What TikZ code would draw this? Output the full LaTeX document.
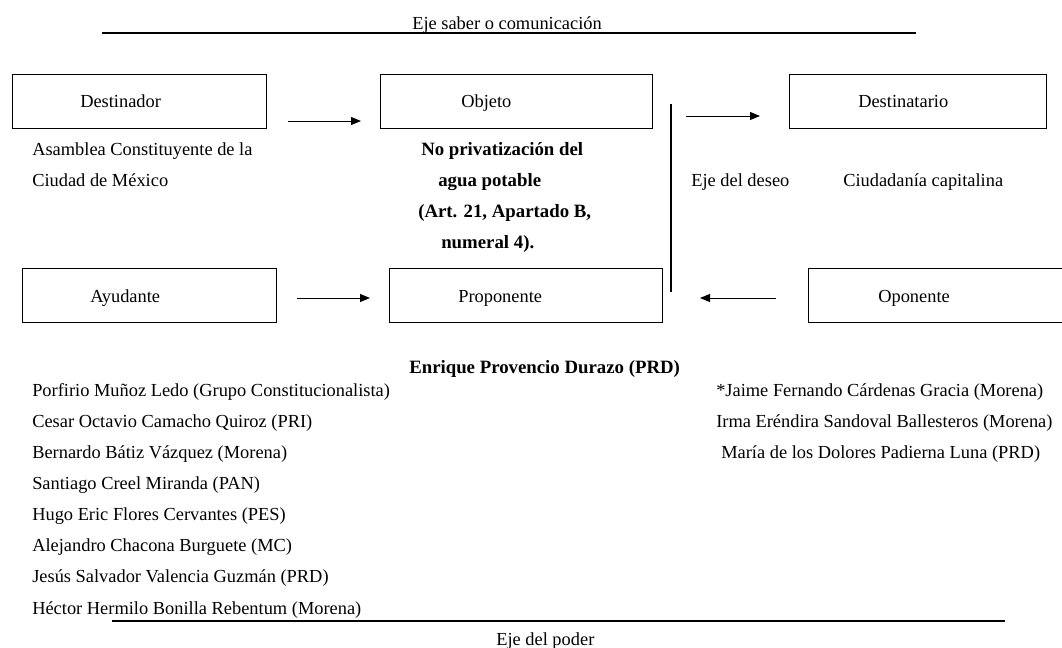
\documentclass[tikz,border=0pt]{standalone}
\usepackage{fontspec}
\setmainfont{Liberation Serif}
\usetikzlibrary{arrows.meta}
\begin{document}
\begin{tikzpicture}[x=0.75pt,y=-0.75pt,
  every node/.style={inner sep=0pt,font=\fontsize{13.8}{16}\selectfont},
  actant/.style={draw,line width=0.9pt,minimum width=#1*0.75pt,minimum height=54*0.75pt,anchor=north west},
  lbl/.style={anchor=base west},
  boldlbl/.style={anchor=base west,font=\fontsize{14.1}{16}\selectfont\bfseries},
  axis/.style={line width=1pt},
  flow/.style={line width=0.75pt,-{Triangle[length=7.5pt,width=6pt]}}]
\useasboundingbox (0,0) rectangle (1062,647);

% axis of knowledge / communication
\coordinate (saberL) at (102,33);
\coordinate (saberR) at (916,33);
\draw[axis] (saberL) -- (saberR);
\node[lbl] (saber) at (412,29) {Eje saber o comunicación};

% actant boxes
\node[actant=254] (destinador) at (12,73.5) {};
\node[actant=272] (objeto) at (380,74) {};
\node[actant=257] (destinatario) at (789,74) {};
\node[actant=254] (ayudante) at (22,268) {};
\node[actant=273] (proponente) at (389,268) {};
\node[actant=270] (oponente) at (808,268) {};

\node[lbl] (tdestinador) at (80,107) {Destinador};
\node[lbl] (tobjeto) at (461,107) {Objeto};
\node[lbl] (tdestinatario) at (858,107) {Destinatario};
\node[lbl] (tayudante) at (90,302) {Ayudante};
\node[lbl] (tproponente) at (458,302) {Proponente};
\node[lbl] (toponente) at (878,302) {Oponente};

% arrows between the actants
\coordinate (a1s) at (288,121);  \coordinate (a1e) at (361,121);
\coordinate (a2s) at (686,116);  \coordinate (a2e) at (760,116);
\coordinate (a3s) at (297,298);  \coordinate (a3e) at (370,298);
\coordinate (a4s) at (776,298);  \coordinate (a4e) at (700,298);
\draw[flow] (a1s) -- (a1e);
\draw[flow] (a2s) -- (a2e);
\draw[flow] (a3s) -- (a3e);
\draw[flow] (a4s) -- (a4e);

% axis of desire
\coordinate (deseoT) at (671,104);
\coordinate (deseoB) at (671,292);
\draw[line width=0.8pt] (deseoT) -- (deseoB);
\node[lbl] (deseo) at (691,186) {Eje del deseo};

% descriptions
\node[lbl] (asamblea1) at (32,155) {Asamblea Constituyente de la};
\node[lbl] (asamblea2) at (32,186) {Ciudad de México};
\node[boldlbl] (obj1) at (421,155) {No privatización del};
\node[boldlbl] (obj2) at (438,186) {agua potable};
\node[boldlbl] (obj3) at (418,217) {(Art. 21, Apartado B,};
\node[boldlbl] (obj4) at (441,248) {numeral 4).};
\node[lbl] (ciudadania) at (843,186) {Ciudadanía capitalina};
\node[boldlbl] (enrique) at (409,373) {Enrique Provencio Durazo (PRD)};

% helpers
\node[lbl] (h1) at (32,396) {Porfirio Muñoz Ledo (Grupo Constitucionalista)};
\node[lbl] (h2) at (32,427) {Cesar Octavio Camacho Quiroz (PRI)};
\node[lbl] (h3) at (32,458) {Bernardo Bátiz Vázquez (Morena)};
\node[lbl] (h4) at (32,489) {Santiago Creel Miranda (PAN)};
\node[lbl] (h5) at (32,520) {Hugo Eric Flores Cervantes (PES)};
\node[lbl] (h6) at (32,551.5) {Alejandro Chacona Burguete (MC)};
\node[lbl] (h7) at (32,582.5) {Jesús Salvador Valencia Guzmán (PRD)};
\node[lbl] (h8) at (32,614) {Héctor Hermilo Bonilla Rebentum (Morena)};

% opponents
\node[lbl] (o1) at (716,396) {*Jaime Fernando Cárdenas Gracia (Morena)};
\node[lbl] (o2) at (716,427) {Irma Eréndira Sandoval Ballesteros (Morena)};
\node[lbl] (o3) at (721,458) {María de los Dolores Padierna Luna (PRD)};

% axis of power
\coordinate (poderL) at (112,621);
\coordinate (poderR) at (1005,621);
\draw[axis] (poderL) -- (poderR);
\node[lbl] (poder) at (496,645) {Eje del poder};
\end{tikzpicture}
\end{document}
